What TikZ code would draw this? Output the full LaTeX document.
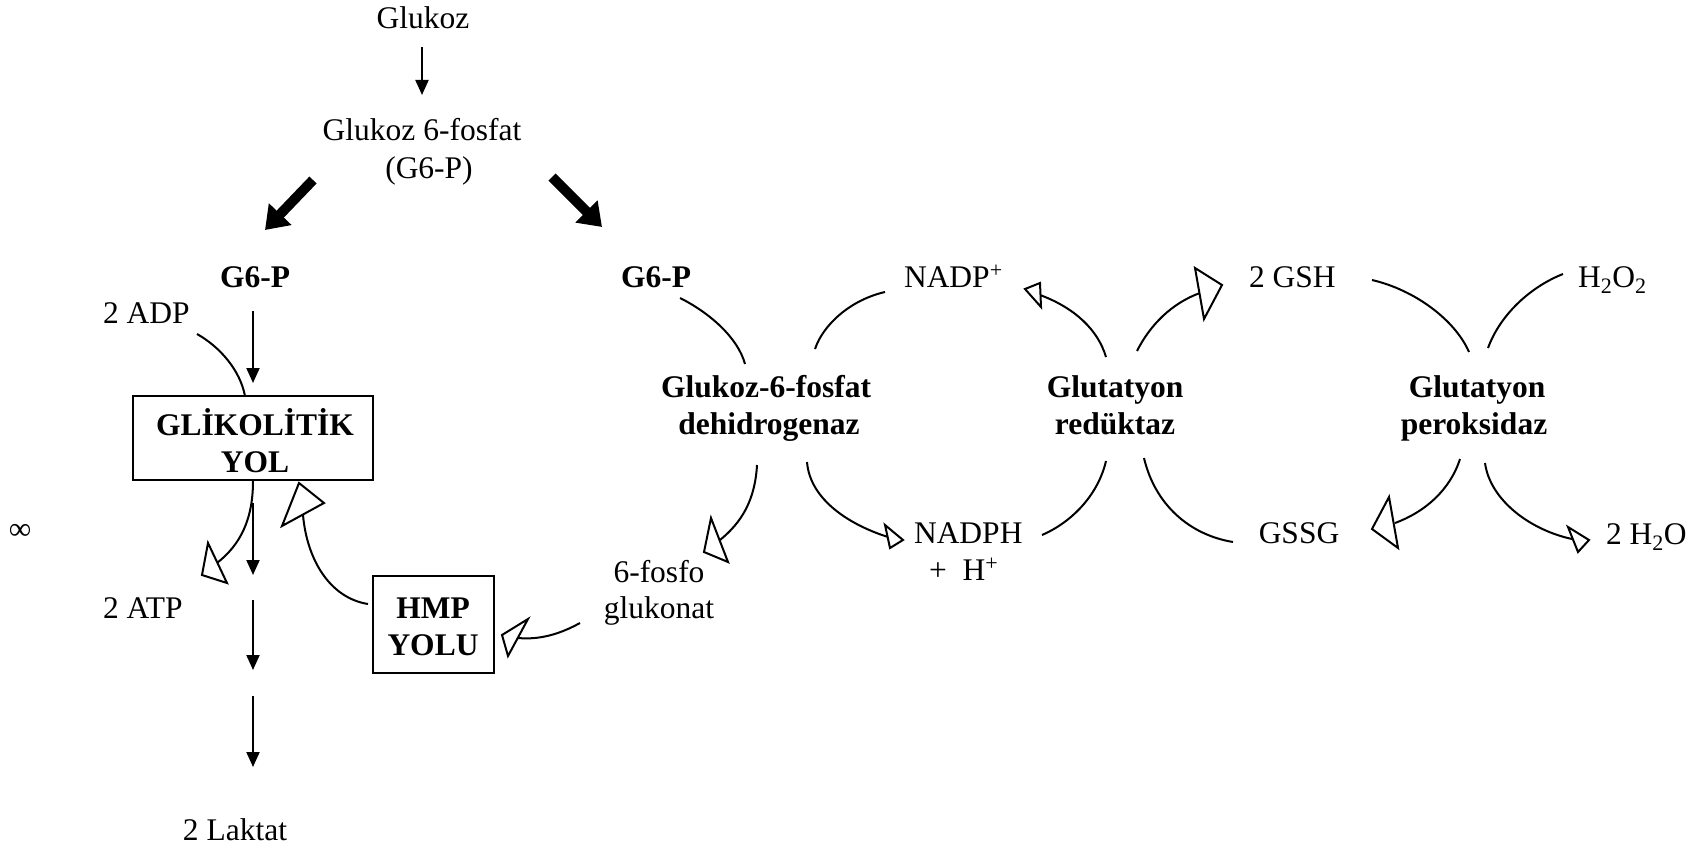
\documentclass[tikz,border=0pt]{standalone}
\usepackage{fontspec}
\setmainfont{Liberation Serif}
\usetikzlibrary{arrows.meta}
\begin{document}
\begin{tikzpicture}[x=1pt,y=-1pt,line width=2pt,
  lbl/.style={inner sep=0pt,anchor=base,font=\fontsize{31.5}{36.5}\selectfont},
  bl/.style={lbl,font=\fontsize{31.5}{36.5}\selectfont\bfseries},
  arr/.style={-{Triangle[length=15pt,width=13pt]}},
  fat/.style={line width=10pt,-{Triangle[length=22pt,width=30pt]}},
  boxst/.style={draw,line width=2pt,inner sep=0pt},
  arcst/.style={line width=2pt},
  hollow/.style={draw,fill=white,line width=2pt,line join=miter}]
\useasboundingbox (0,0) rectangle (1691,848);

% ---------- texts ----------
\node[lbl] (glukoz) at (423,29) {Glukoz};
\node[lbl] (g6pf) at (422,141) {Glukoz 6-fosfat};
\node[lbl] (g6pp) at (429,178) {(G6-P)};
\node[bl] (g6pL) at (255,287) {G6-P};
\node[bl] (g6pR) at (656,287) {G6-P};
\node[lbl,anchor=base west] (nadp) at (903,287) {NADP\textsuperscript{+}};
\node[lbl,anchor=base west] (gsh) at (1248,287) {2 GSH};
\node[lbl,anchor=base west] (h2o2) at (1577,287) {H\textsubscript{2}O\textsubscript{2}};
\node[lbl,anchor=base west] (adp) at (102,323) {2 ADP};
\node[bl] (glik1) at (255,435) {GLİKOLİTİK};
\node[bl] (glik2) at (255,472) {YOL};
\node[bl] (g6pd1) at (766,397) {Glukoz-6-fosfat};
\node[bl] (g6pd2) at (769,434) {dehidrogenaz};
\node[bl] (gr1) at (1115,397) {Glutatyon};
\node[bl] (gr2) at (1115,434) {redüktaz};
\node[bl] (gpx1) at (1477,397) {Glutatyon};
\node[bl] (gpx2) at (1474,434) {peroksidaz};
\node[lbl,anchor=center] (inf) at (20,532) {∞};
\node[lbl,anchor=base west] (nadph) at (913,543) {NADPH};
\node[lbl,anchor=base west] (hplus) at (928,580) {+\ \ H\textsuperscript{+}};
\node[lbl] (gssg) at (1299,543) {GSSG};
\node[lbl,anchor=base west] (h2o) at (1605,544) {2 H\textsubscript{2}O};
\node[lbl] (fosfo1) at (659,582) {6-fosfo};
\node[lbl] (fosfo2) at (659,618) {glukonat};
\node[lbl,anchor=base west] (atp) at (102,618) {2 ATP};
\node[bl] (hmp1) at (433,618) {HMP};
\node[bl] (hmp2) at (433,655) {YOLU};
\node[lbl] (laktat) at (235,840) {2 Laktat};

% ---------- boxes ----------
\node[boxst,minimum width=240pt,minimum height=84pt] (glbox) at (253,438) {};
\node[boxst,minimum width=121pt,minimum height=97pt] (hmpbox) at (433.5,624.5) {};

% ---------- straight arrows ----------
\coordinate (a1s) at (422,47);  \coordinate (a1e) at (422,95);
\coordinate (a2s) at (253,311); \coordinate (a2e) at (253,383);
\coordinate (a3s) at (253,503); \coordinate (a3e) at (253,575);
\coordinate (a4s) at (253,600); \coordinate (a4e) at (253,670);
\coordinate (a5s) at (253,696); \coordinate (a5e) at (253,767);
\draw[arr] (a1s) -- (a1e);
\draw[arr] (a2s) -- (a2e);
\draw[arr] (a3s) -- (a3e);
\draw[arr] (a4s) -- (a4e);
\draw[arr] (a5s) -- (a5e);

\coordinate (f1s) at (313,180); \coordinate (f1e) at (265,230);
\coordinate (f2s) at (552,177); \coordinate (f2e) at (602,227);
\draw[fat] (f1s) -- (f1e);
\draw[fat] (f2s) -- (f2e);

% ---------- curved connectors ----------
% glycolysis
\coordinate (adpS) at (197,334); \coordinate (adpE) at (245,396);
\draw[arcst] (adpS) .. controls (220,347) and (240,370) .. (adpE);
\coordinate (atpS) at (253,481); \coordinate (atpE) at (217,563);
\draw[arcst] (atpS) .. controls (253,520) and (240,545) .. (atpE);
\draw[hollow] (208,543) -- (227,583) -- (202,575) -- cycle;
\coordinate (hmpS) at (368,604); \coordinate (hmpE) at (303,515);
\draw[arcst] (hmpS) .. controls (330,598) and (307,560) .. (hmpE);
\draw[hollow] (324,503) -- (282,526) -- (299,483) -- cycle;
\coordinate (pgS) at (580,623); \coordinate (pgE) at (518,638);
\draw[arcst] (pgS) .. controls (560,634) and (540,640) .. (pgE);
\draw[hollow] (528,619) -- (508,656) -- (502,635) -- cycle;

% G6PD
\coordinate (d1S) at (680,298); \coordinate (d1E) at (745,364);
\draw[arcst] (d1S) .. controls (710,313) and (738,338) .. (d1E);
\coordinate (d2S) at (815,349); \coordinate (d2E) at (885,292);
\draw[arcst] (d2S) .. controls (823,325) and (850,300) .. (d2E);
\coordinate (d3S) at (757,465); \coordinate (d3E) at (720,540);
\draw[arcst] (d3S) .. controls (755,500) and (742,522) .. (d3E);
\draw[hollow] (711,518) -- (728,562) -- (704,552) -- cycle;
\coordinate (d4S) at (807,462); \coordinate (d4E) at (888,537);
\draw[arcst] (d4S) .. controls (810,500) and (850,525) .. (d4E);
\draw[hollow] (885,525) -- (890,548) -- (903,540) -- cycle;

% GR
\coordinate (r1S) at (1042,535); \coordinate (r1E) at (1106,461);
\draw[arcst] (r1S) .. controls (1072,522) and (1098,495) .. (r1E);
\coordinate (r2S) at (1106,357); \coordinate (r2E) at (1040,295);
\draw[arcst] (r2S) .. controls (1098,330) and (1075,308) .. (r2E);
\draw[hollow] (1040,283) -- (1041,307) -- (1025,289) -- cycle;
\coordinate (r3S) at (1137,351); \coordinate (r3E) at (1200,293);
\draw[arcst] (r3S) .. controls (1150,325) and (1172,303) .. (r3E);
\draw[hollow] (1195,268) -- (1204,319) -- (1222,285) -- cycle;
\coordinate (r4S) at (1144,458); \coordinate (r4E) at (1233,542);
\draw[arcst] (r4S) .. controls (1155,505) and (1190,535) .. (r4E);

% GPx
\coordinate (p1S) at (1372,280); \coordinate (p1E) at (1469,352);
\draw[arcst] (p1S) .. controls (1415,290) and (1455,320) .. (p1E);
\coordinate (p2S) at (1563,274); \coordinate (p2E) at (1488,348);
\draw[arcst] (p2S) .. controls (1530,287) and (1500,315) .. (p2E);
\coordinate (p3S) at (1460,459); \coordinate (p3E) at (1395,523);
\draw[arcst] (p3S) .. controls (1450,490) and (1425,512) .. (p3E);
\draw[hollow] (1389,497) -- (1398,548) -- (1372,529) -- cycle;
\coordinate (p4S) at (1485,463); \coordinate (p4E) at (1572,539);
\draw[arcst] (p4S) .. controls (1490,500) and (1530,530) .. (p4E);
\draw[hollow] (1568,527) -- (1578,552) -- (1589,540) -- cycle;
\end{tikzpicture}
\end{document}
